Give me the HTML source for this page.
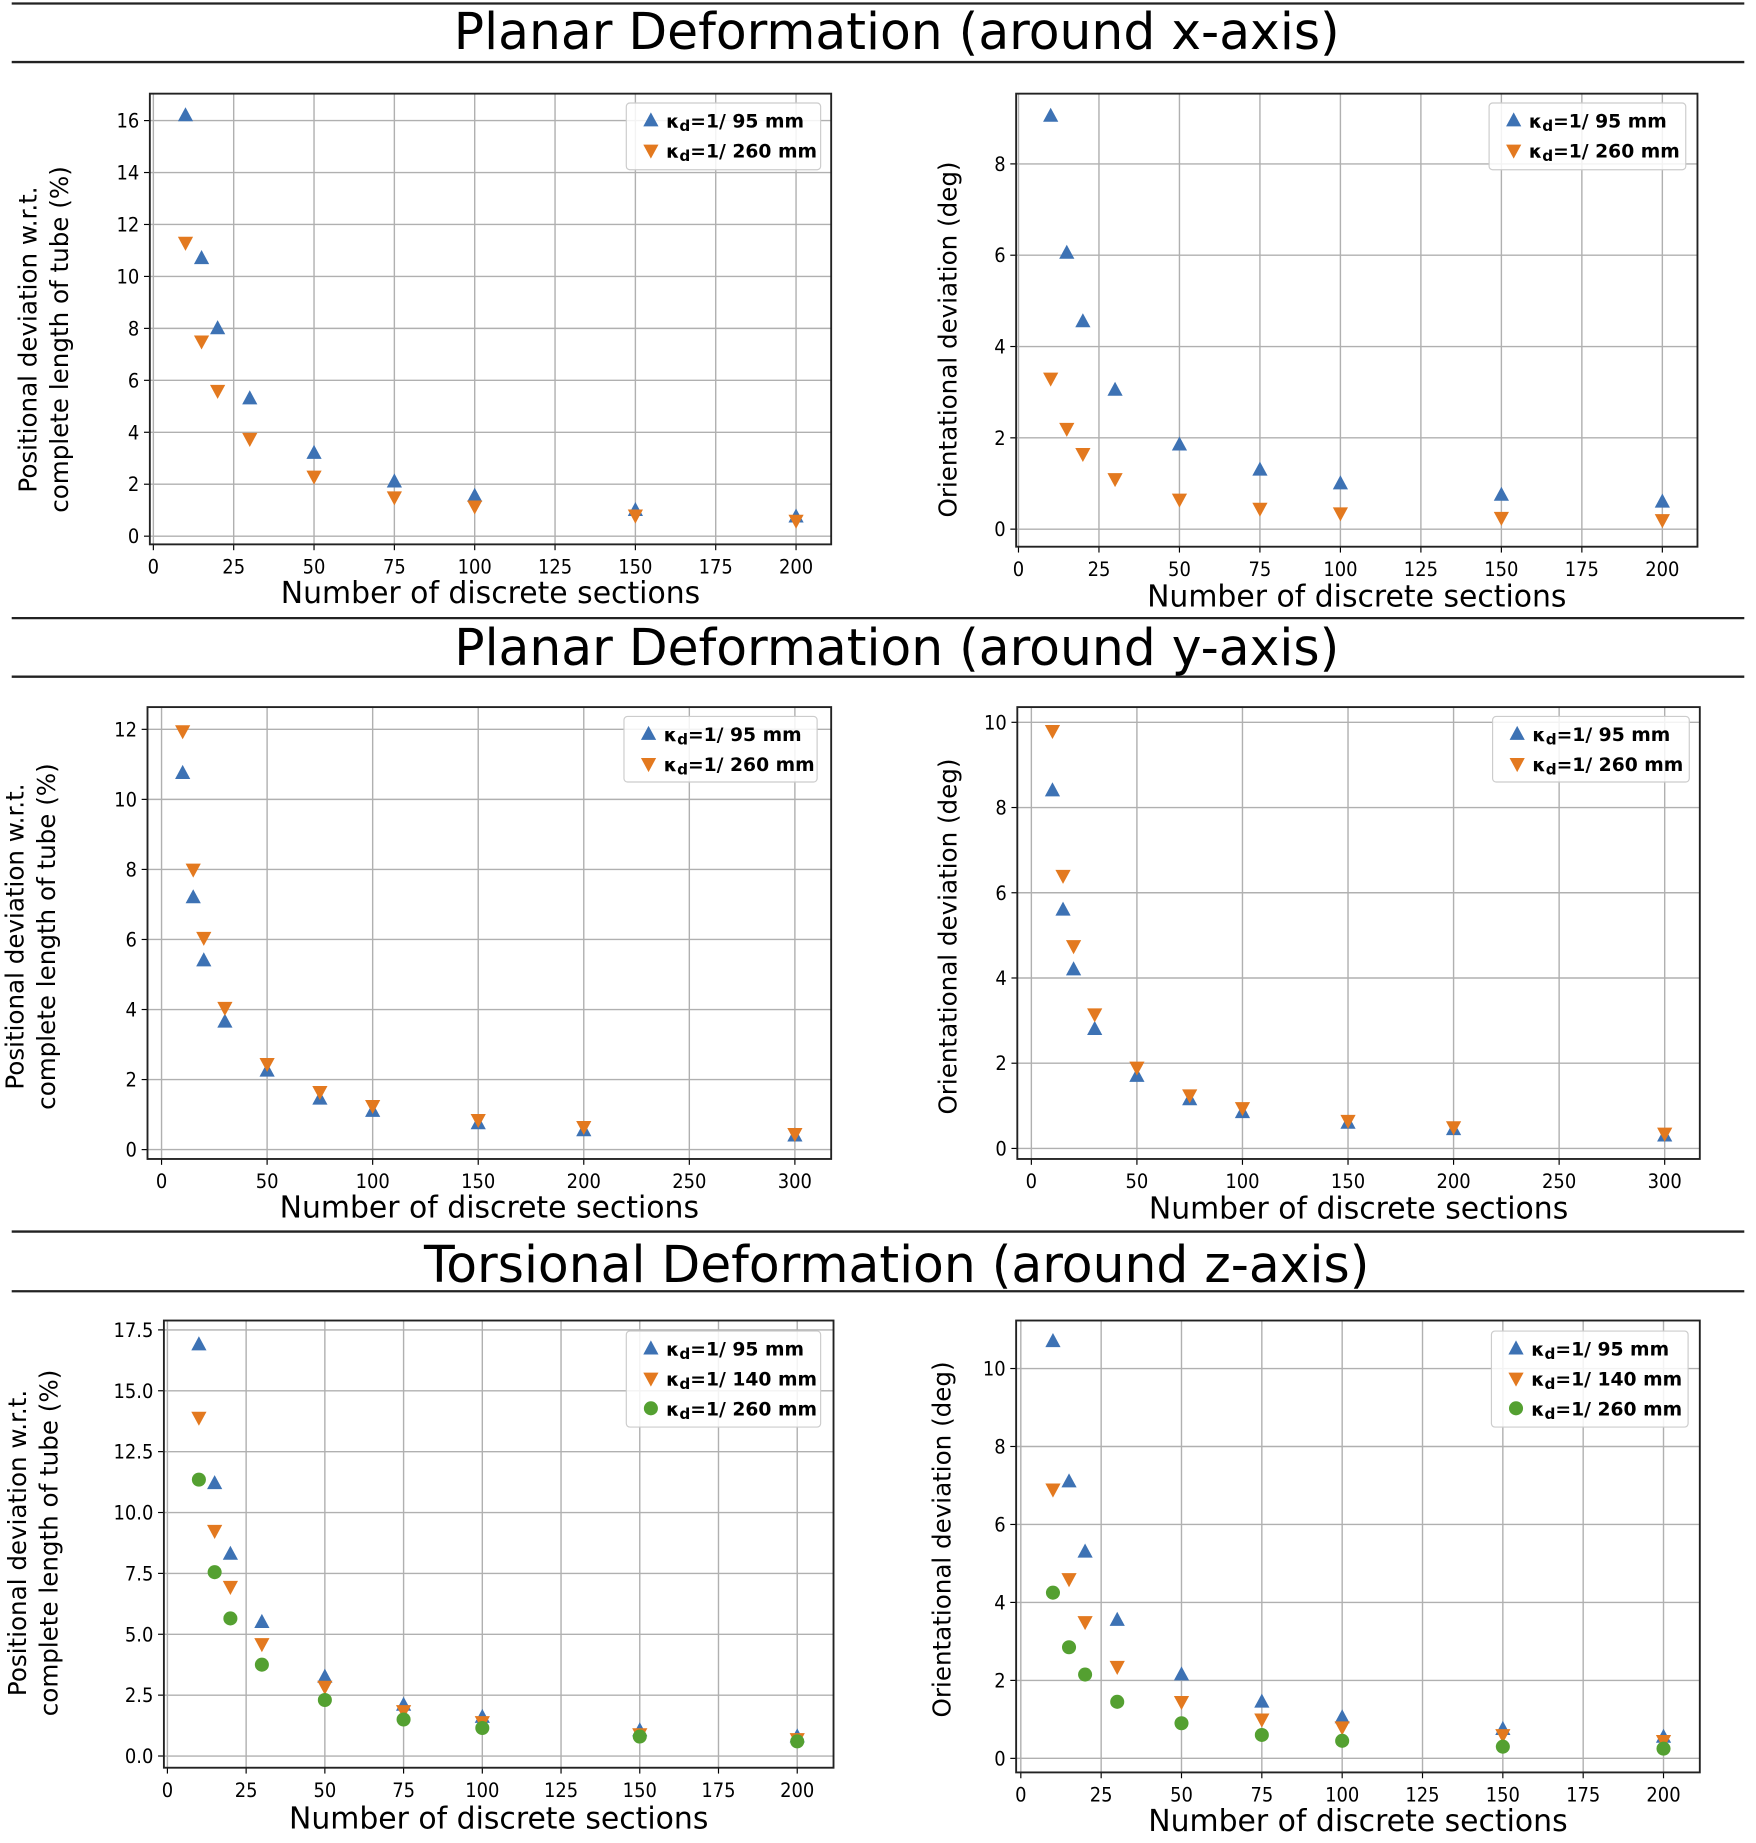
<!DOCTYPE html>
<html><head><meta charset="utf-8"><style>
html,body{margin:0;padding:0;background:#fff;}
svg{display:block;}
text{font-family:"DejaVu Sans","Liberation Sans",sans-serif;fill:#000;}
.tk{font-family:"Liberation Sans Narrow","DejaVu Sans Condensed","Liberation Sans",sans-serif;font-size:17px;}
.lg{font-family:"DejaVu Sans","Liberation Sans",sans-serif;font-size:16px;font-weight:bold;}
</style></head><body>
<svg id="fig" width="1756" height="1843" viewBox="0 0 1500 1574.3" preserveAspectRatio="none" xmlns="http://www.w3.org/2000/svg">
<g stroke="#222" stroke-width="2">
<line x1="10" y1="3" x2="1490" y2="3"/><line x1="10" y1="53" x2="1490" y2="53"/>
<line x1="10" y1="528" x2="1490" y2="528"/><line x1="10" y1="578" x2="1490" y2="578"/>
<line x1="10" y1="1052" x2="1490" y2="1052"/><line x1="10" y1="1103" x2="1490" y2="1103"/>
</g>
<text x="766" y="42" text-anchor="middle" font-size="43">Planar Deformation (around x-axis)</text>
<text x="766" y="568" text-anchor="middle" font-size="43">Planar Deformation (around y-axis)</text>
<text x="766" y="1095" text-anchor="middle" font-size="43">Torsional Deformation (around z-axis)</text>
</svg>
<script>
const xs9 = [10,15,20,30,50,75,100,150,200];
const xs10 = [10,15,20,30,50,75,100,150,200,300];
const p1Blue = [16.2,10.7,8.0,5.3,3.2,2.1,1.55,1.0,0.75];
const p1Orange = [11.3,7.5,5.6,3.75,2.3,1.5,1.15,0.8,0.6];
const p2Blue = [9.05,6.05,4.55,3.05,1.85,1.3,1.0,0.75,0.6];
const p2Orange = [3.3,2.2,1.65,1.1,0.65,0.45,0.35,0.25,0.2];
const p3Blue = [10.75,7.2,5.4,3.65,2.25,1.45,1.1,0.75,0.55,0.4];
const p3Orange = [11.95,8.0,6.05,4.05,2.45,1.65,1.25,0.85,0.65,0.45];
const p4Blue = [8.4,5.6,4.2,2.8,1.7,1.15,0.85,0.6,0.45,0.3];
const p4Orange = [9.8,6.4,4.75,3.15,1.9,1.25,0.95,0.65,0.5,0.35];
const p5Blue = [16.9,11.2,8.3,5.5,3.25,2.1,1.6,1.05,0.8];
const p5Orange = [13.9,9.25,6.95,4.6,2.85,1.85,1.4,0.9,0.7];
const p5Green = [11.35,7.55,5.65,3.75,2.3,1.5,1.15,0.8,0.6];
const p6Blue = [10.7,7.1,5.3,3.55,2.15,1.45,1.05,0.75,0.55];
const p6Orange = [6.9,4.6,3.5,2.35,1.45,1.0,0.8,0.6,0.45];
const p6Green = [4.25,2.85,2.15,1.45,0.9,0.6,0.45,0.3,0.25];
const xTicks200 = [0,25,50,75,100,125,150,175,200];
const xTicks300 = [0,50,100,150,200,250,300];
const yTicks16 = [0,2,4,6,8,10,12,14,16];
const yTicks8 = [0,2,4,6,8];
const yTicks12 = [0,2,4,6,8,10,12];
const yTicks10 = [0,2,4,6,8,10];
const yTicks175 = [0,2.5,5.0,7.5,10.0,12.5,15.0,17.5];
const labels2 = ["1/ 95 mm","1/ 260 mm"];
const labels3 = ["1/ 95 mm","1/ 140 mm","1/ 260 mm"];

const NS="http://www.w3.org/2000/svg";
const fig=document.getElementById('fig');
const BLUE="#3d72b4",ORANGE="#e3791f",GREEN="#54a031";
function mk(tag,attrs,parent){const e=document.createElementNS(NS,tag);for(const k in attrs)e.setAttribute(k,attrs[k]);(parent||fig).appendChild(e);return e;}
function marker(g,shape,cx,cy,color){
  let e;
  if(shape==='up') e=mk('polygon',{points:`${cx},${cy-7} ${cx-6.5},${cy+5} ${cx+6.5},${cy+5}`,fill:color},g);
  else if(shape==='down') e=mk('polygon',{points:`${cx},${cy+7} ${cx-6.5},${cy-5} ${cx+6.5},${cy-5}`,fill:color},g);
  else e=mk('circle',{cx:cx,cy:cy,r:6,fill:color},g);
  return e;
}
function panel(p){
  const g=mk('g',{});
  
  
  const sx=v=>p.x0px+(v-p.xa)*(p.x1px-p.x0px)/(p.xb-p.xa);
  const sy=v=>p.y0px+(v-p.ya)*(p.y1px-p.y0px)/(p.yb-p.ya);
  const [L,T,R,B]=p.box;
  p.xTicks.forEach(t=>{mk('line',{x1:sx(t),x2:sx(t),y1:T,y2:B,stroke:'#b0b0b0','stroke-width':1.2},g);
    mk('line',{x1:sx(t),x2:sx(t),y1:B,y2:B+5,stroke:'#000','stroke-width':1},g);
    const tx=mk('text',{x:sx(t),y:B+25,'text-anchor':'middle',class:'tk'},g);tx.textContent=t;
    
    });
  p.yTicks.forEach(t=>{mk('line',{x1:L,x2:R,y1:sy(t),y2:sy(t),stroke:'#b0b0b0','stroke-width':1.2},g);
    mk('line',{x1:L-5,x2:L,y1:sy(t),y2:sy(t),stroke:'#000','stroke-width':1},g);
    const tx=mk('text',{x:L-9,y:sy(t)+6,'text-anchor':'end',class:'tk'},g);tx.textContent=(p.yDec?t.toFixed(1):t);
    
    });
  mk('rect',{x:L,y:T,width:R-L,height:B-T,fill:'none',stroke:'#222','stroke-width':1.6},g);
  p.series.forEach(s=>{
    const sg=mk('g',{},g);
    
    
    s.vals.forEach((v,i)=>{const m=marker(sg,s.shape,sx(p.xs[i]),sy(v),s.color);
      
      });
  });
  const [lx,ly,lw,lh]=p.legend;
  const lg=mk('g',{},g);
  
  
  mk('rect',{x:lx,y:ly,width:lw,height:lh,rx:3,fill:'#fff','fill-opacity':0.85,stroke:'#ccc','stroke-width':1},lg);
  p.series.forEach((s,i)=>{const cy=ly+15+i*25.5;
    marker(lg,s.shape,lx+21,cy,s.color);
    const t=mk('text',{x:lx+34,y:cy+6,class:'lg'},lg);
    t.innerHTML='κ<tspan font-size="13" dy="3">d</tspan><tspan dy="-3">=</tspan>'+p.labels[i];
    
    });
  const xl=mk('text',{x:(L+R)/2,y:p.xlabY,'text-anchor':'middle','font-size':25.5},g);xl.textContent='Number of discrete sections';
  
  
  p.ylab.forEach(l=>{const t=mk('text',{x:0,y:0,'text-anchor':'middle','font-size':21,transform:`translate(${l[0]},${l[1]}) rotate(-90)`},g);t.textContent=l[2];
    
    });
}
const posA="Positional deviation w.r.t.", posB="complete length of tube (%)", ori="Orientational deviation (deg)";
panel({name:'panel-x-positional',box:[128,80,710,465],xa:0,xb:200,x0px:131,x1px:680,ya:0,yb:16,y0px:458,y1px:103,xs:xs9,xTicks:xTicks200,yTicks:yTicks16,
  series:[{name:'series-95',vals:p1Blue,shape:'up',color:BLUE},{name:'series-260',vals:p1Orange,shape:'down',color:ORANGE}],
  legend:[535,88,166,57],labels:labels2,xlabY:515,ylab:[[31,290,posA],[58,290,posB]]});
panel({name:'panel-x-orientational',box:[868,80,1450,467],xa:0,xb:200,x0px:870,x1px:1420,ya:0,yb:8,y0px:452,y1px:140,xs:xs9,xTicks:xTicks200,yTicks:yTicks8,
  series:[{name:'series-95',vals:p2Blue,shape:'up',color:BLUE},{name:'series-260',vals:p2Orange,shape:'down',color:ORANGE}],
  legend:[1272,88,168,57],labels:labels2,xlabY:518,ylab:[[817,290,ori]]});
panel({name:'panel-y-positional',box:[126,604,710,990],xa:0,xb:300,x0px:138,x1px:679,ya:0,yb:12,y0px:982,y1px:623,xs:xs10,xTicks:xTicks300,yTicks:yTicks12,
  series:[{name:'series-95',vals:p3Blue,shape:'up',color:BLUE},{name:'series-260',vals:p3Orange,shape:'down',color:ORANGE}],
  legend:[533,612,165,56],labels:labels2,xlabY:1040,ylab:[[20,800,posA],[47,800,posB]]});
panel({name:'panel-y-orientational',box:[869,604,1452,990],xa:0,xb:300,x0px:881,x1px:1422,ya:0,yb:10,y0px:981,y1px:617,xs:xs10,xTicks:xTicks300,yTicks:yTicks10,
  series:[{name:'series-95',vals:p4Blue,shape:'up',color:BLUE},{name:'series-260',vals:p4Orange,shape:'down',color:ORANGE}],
  legend:[1275,612,168,56],labels:labels2,xlabY:1041,ylab:[[817,800,ori]]});
panel({name:'panel-z-positional',box:[140,1128,712,1510],xa:0,xb:200,x0px:143,x1px:681,ya:0,yb:17.5,y0px:1500,y1px:1136,xs:xs9,xTicks:xTicks200,yTicks:yTicks175,yDec:true,
  series:[{name:'series-95',vals:p5Blue,shape:'up',color:BLUE},{name:'series-140',vals:p5Orange,shape:'down',color:ORANGE},{name:'series-260',vals:p5Green,shape:'circle',color:GREEN}],
  legend:[535,1137,166,82],labels:labels3,xlabY:1562,ylab:[[22,1318,posA],[49,1318,posB]]});
panel({name:'panel-z-orientational',box:[868,1128,1452,1514],xa:0,xb:200,x0px:872,x1px:1421,ya:0,yb:10,y0px:1502,y1px:1169,xs:xs9,xTicks:xTicks200,yTicks:yTicks10,
  series:[{name:'series-95',vals:p6Blue,shape:'up',color:BLUE},{name:'series-140',vals:p6Orange,shape:'down',color:ORANGE},{name:'series-260',vals:p6Green,shape:'circle',color:GREEN}],
  legend:[1274,1137,168,82],labels:labels3,xlabY:1564,ylab:[[812,1315,ori]]});
</script>
</body></html>
